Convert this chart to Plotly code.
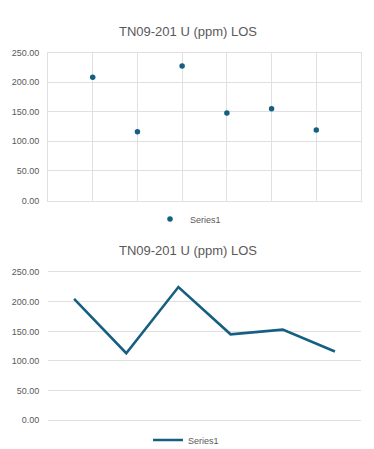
import plotly.graph_objects as go

# Data
categories = [1, 2, 3, 4, 5, 6]
scatter_values = [208, 116, 227, 148, 155, 119]
line_values = [205, 113, 225, 145, 153, 116]
series_name = "Series1"
title_text = "TN09-201 U (ppm) LOS"

# page body has an 8px margin; offset the figure coordinates accordingly
OFF = 8
W, H = 374 - OFF, 449 - OFF
COLOR = "#156082"
GRID = "#e0e0e0"
TXT = "#595959"
FONT = "Liberation Sans"

def px_x(x):
    return (x - OFF) / W

def px_y(y):
    return (H - (y - OFF)) / H

fig = go.Figure()

fig.add_trace(go.Scatter(
    x=categories, y=scatter_values, mode="markers", name=series_name,
    marker=dict(color=COLOR, size=5.5), xaxis="x", yaxis="y", legend="legend",
    showlegend=True,
))
fig.add_trace(go.Scatter(
    x=[str(c) for c in categories], y=line_values, mode="lines", name=series_name,
    line=dict(color=COLOR, width=2.6), xaxis="x2", yaxis="y2", legend="legend2",
    showlegend=True,
))

xdom = [px_x(48), px_x(361)]
yaxis_common = dict(
    range=[0, 250], dtick=50, tickformat=".2f", showgrid=True, gridcolor=GRID,
    gridwidth=1, zeroline=False, ticks="outside", ticklen=6,
    tickcolor="rgba(0,0,0,0)", tickfont=dict(size=9, color=TXT, family=FONT),
    fixedrange=True, automargin=False,
)

fig.update_layout(
    width=W, height=H,
    margin=dict(l=0, r=0, t=0, b=0, autoexpand=False),
    showlegend=True,
    paper_bgcolor="white", plot_bgcolor="white",
    font=dict(family=FONT, color=TXT),
    xaxis=dict(domain=xdom, range=[0, 7], dtick=1, showgrid=True, gridcolor=GRID,
               showticklabels=False, zeroline=False, showline=True, mirror=True,
               linecolor=GRID, linewidth=1, anchor="y", ticks="", automargin=False),
    yaxis=dict(domain=[px_y(200.5), px_y(52.5)], anchor="x", showline=True,
               mirror=True, linecolor=GRID, linewidth=1, **yaxis_common),
    xaxis2=dict(domain=xdom, type="category", range=[-0.5, 5.5], showgrid=False,
                showticklabels=False, zeroline=False, showline=True, mirror=True,
                linecolor=GRID, linewidth=1, anchor="y2", ticks="", automargin=False),
    yaxis2=dict(domain=[px_y(420), px_y(272.3)], anchor="x2", showline=False,
                **yaxis_common),
    legend=dict(x=px_x(150), xanchor="left", y=px_y(219), yanchor="middle",
                orientation="h", font=dict(size=9, color=TXT, family=FONT),
                bgcolor="rgba(0,0,0,0)"),
    legend2=dict(x=px_x(148), xanchor="left", y=px_y(440), yanchor="middle",
                 orientation="h", font=dict(size=9, color=TXT, family=FONT),
                 bgcolor="rgba(0,0,0,0)"),
    annotations=[
        dict(text=title_text, x=px_x(188), y=px_y(32), xref="paper", yref="paper",
             xanchor="center", yanchor="middle", showarrow=False,
             font=dict(size=13, color=TXT, family=FONT)),
        dict(text=title_text, x=px_x(188), y=px_y(251), xref="paper", yref="paper",
             xanchor="center", yanchor="middle", showarrow=False,
             font=dict(size=13, color=TXT, family=FONT)),
    ],
)

fig.write_html("out.html", config={"displayModeBar": False})
